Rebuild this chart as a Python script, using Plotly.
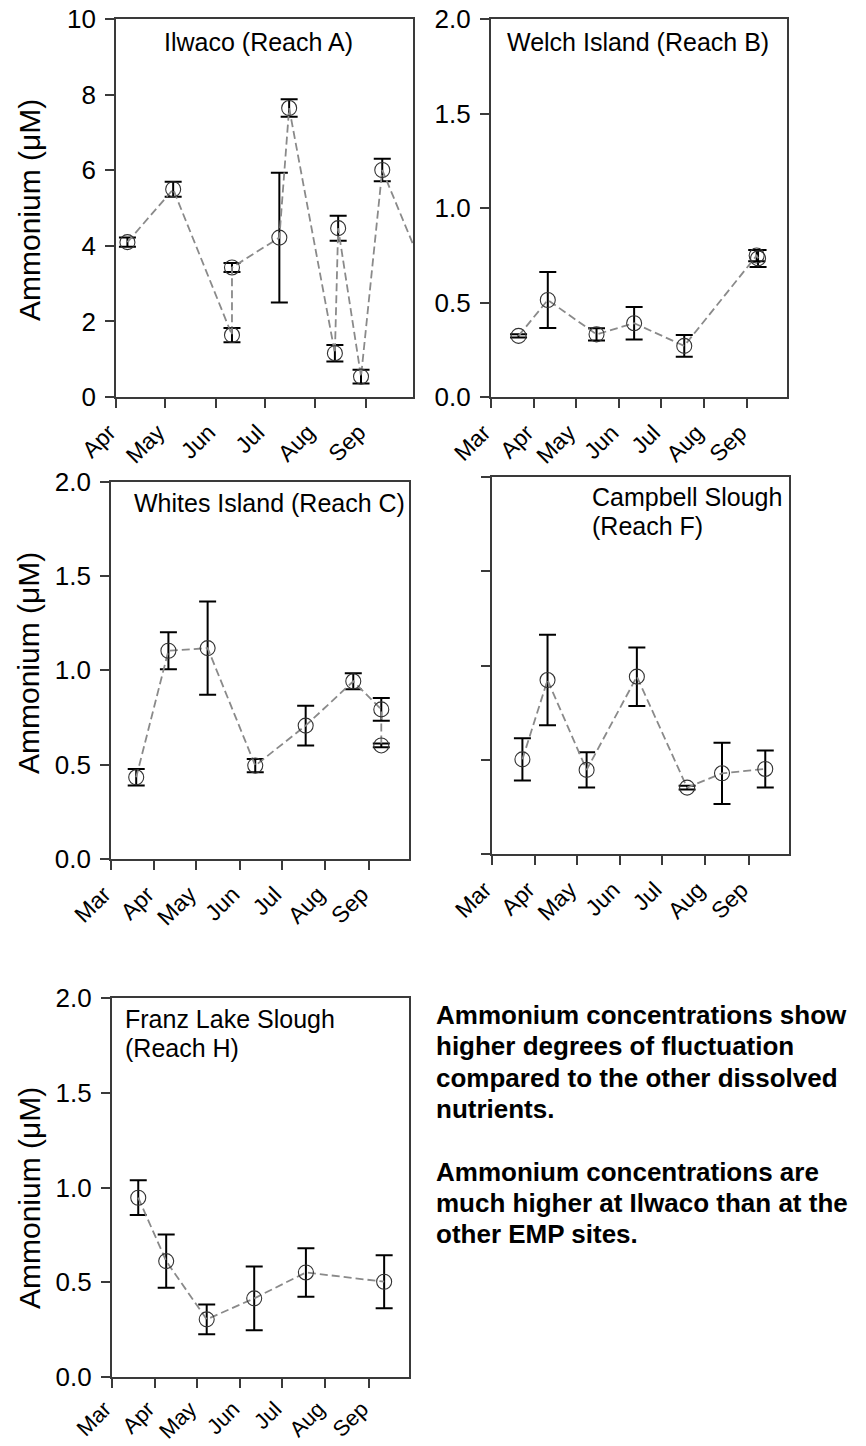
import plotly.graph_objects as go

W, H = 866, 1446

# ---------------- data ----------------
a_dates = ["2010-04-08", "2010-05-06", "2010-06-11", "2010-06-11", "2010-07-10", "2010-07-16",
           "2010-08-13", "2010-08-15", "2010-08-29", "2010-09-11", "2010-10-06"]
a_vals = [4.10, 5.50, 1.64, 3.43, 4.22, 7.65, 1.16, 4.47, 0.54, 6.01, 3.40]
a_errs = [0.12, 0.20, 0.19, 0.12, 1.72, 0.23, 0.22, 0.33, 0.18, 0.30, 0.0]

b_dates = ["2010-03-21", "2010-04-11", "2010-05-16", "2010-06-12", "2010-07-18", "2010-09-08", "2010-09-09"]
b_vals = [0.325, 0.515, 0.333, 0.392, 0.272, 0.750, 0.735]
b_errs = [0.008, 0.148, 0.033, 0.086, 0.057, 0.030, 0.045]

c_dates = ["2010-03-19", "2010-04-11", "2010-05-09", "2010-06-12", "2010-07-18", "2010-08-21",
           "2010-09-10", "2010-09-10"]
c_vals = [0.433, 1.104, 1.118, 0.495, 0.707, 0.942, 0.793, 0.602]
c_errs = [0.044, 0.098, 0.247, 0.035, 0.106, 0.042, 0.060, 0.010]

d_dates = ["2010-03-23", "2010-04-10", "2010-05-08", "2010-06-13", "2010-07-19", "2010-08-13", "2010-09-13"]
d_vals = [0.503, 0.923, 0.447, 0.941, 0.353, 0.429, 0.452]
d_errs = [0.112, 0.240, 0.093, 0.155, 0.010, 0.162, 0.098]

e_dates = ["2010-03-20", "2010-04-09", "2010-05-08", "2010-06-11", "2010-07-18", "2010-09-12"]
e_vals = [0.946, 0.611, 0.303, 0.414, 0.551, 0.502]
e_errs = [0.092, 0.141, 0.078, 0.169, 0.128, 0.140]

titles = [["Ilwaco (Reach A)"], ["Welch Island (Reach B)"], ["Whites Island (Reach C)"],
          ["Campbell Slough", "(Reach F)"], ["Franz Lake Slough", "(Reach H)"]]
y_title = "Ammonium (\u03bcM)"
note_lines = ["Ammonium concentrations show", "higher degrees of fluctuation",
              "compared to the other dissolved", "nutrients.", "",
              "Ammonium concentrations are", "much higher at Ilwaco than at the",
              "other EMP sites."]

# ---------------- layout helpers ----------------
def px_x(v):
    return v / W

def px_y(v):
    return 1 - v / H

# panel boxes in px: (left, right, top, bottom)
boxes = [(116, 413.3, 19.3, 397),
         (490.7, 787.3, 19.3, 397.3),
         (111, 409.3, 481.7, 859),
         (491.7, 789, 476.7, 854.3),
         (111.7, 409.3, 998.3, 1376.7)]

FONT = "Arial, Liberation Sans, sans-serif"
series = [(a_dates, a_vals, a_errs), (b_dates, b_vals, b_errs), (c_dates, c_vals, c_errs),
          (d_dates, d_vals, d_errs), (e_dates, e_vals, e_errs)]

fig = go.Figure()
layout = dict(width=W, height=H, margin=dict(l=0, r=0, t=0, b=0, autoexpand=False),
              paper_bgcolor="white", plot_bgcolor="white", showlegend=False,
              font=dict(family=FONT, color="black"))

for i, ((dts, vals, errs), box) in enumerate(zip(series, boxes)):
    n = "" if i == 0 else str(i + 1)
    fig.add_trace(go.Scatter(
        x=dts, y=vals, xaxis="x" + n, yaxis="y" + n,
        mode="lines+markers",
        line=dict(color="#8a8a8a", width=1.8, dash="8px,4px"),
        marker=dict(symbol="circle-open", size=15, color="#333333", line=dict(width=1.1)),
        error_y=dict(type="data", array=errs, visible=True, color="black", thickness=2, width=8.5),
        cliponaxis=True,
    ))
    l, r, t, b = box
    xr = ["2010-04-01", "2010-09-30"] if i == 0 else ["2010-03-01", "2010-09-30"]
    common = dict(showline=True, mirror=True, linecolor="#3a3a3a", linewidth=1.6,
                  ticks="outside", ticklen=9, tickwidth=1.5, tickcolor="#3a3a3a",
                  showgrid=False, zeroline=False, automargin=False)
    last = (i == 4)
    layout["xaxis" + n] = dict(domain=[px_x(l), px_x(r)], anchor="y" + n, range=xr,
                               type="date", dtick="M1", tick0="2010-03-01", tickformat="%b",
                               tickangle=-45, tickfont=dict(size=22 if last else 23),
                               ticklabelshift=-7, ticklabelstandoff=0 if last else 2, **common)
    if i == 0:
        ycfg = dict(range=[0, 10], dtick=2, tick0=0)
    else:
        ycfg = dict(range=[0, 2], dtick=0.5, tick0=0, tickformat=".1f")
    layout["yaxis" + n] = dict(domain=[px_y(b), px_y(t)], anchor="x" + n,
                               tickfont=dict(size=26), showticklabels=(i != 3),
                               ticklabelstandoff=4, **ycfg, **common)

annotations = []
# panel titles: (x, first-line center y, anchor)
title_pos = [(258, 41.7, "center"), (638, 41.7, "center"), (269.7, 503.3, "center"),
             (589.7, 497.3, "left"), (123.3, 1019.3, "left")]
for lines, (x, y, anc) in zip(titles, title_pos):
    for j, txt in enumerate(lines):
        annotations.append(dict(text=txt, x=px_x(x), y=px_y(y + j * 28.5), xref="paper", yref="paper",
                                xanchor=anc, yanchor="middle", showarrow=False,
                                font=dict(size=25)))
# y titles
for yc in (210, 663, 1198):
    annotations.append(dict(text=y_title, x=px_x(29), y=px_y(yc), xref="paper", yref="paper",
                            textangle=-90, showarrow=False, font=dict(size=30),
                            xanchor="center", yanchor="middle"))
# side note, one annotation per line
for j, txt in enumerate(note_lines):
    if not txt:
        continue
    annotations.append(dict(text="<b>" + txt + "</b>", x=px_x(434), y=px_y(1015 + j * 31.3),
                            xref="paper", yref="paper", xanchor="left", yanchor="middle",
                            showarrow=False, font=dict(size=26)))
layout["annotations"] = annotations
fig.update_layout(**layout)
fig.write_html("out.html")
